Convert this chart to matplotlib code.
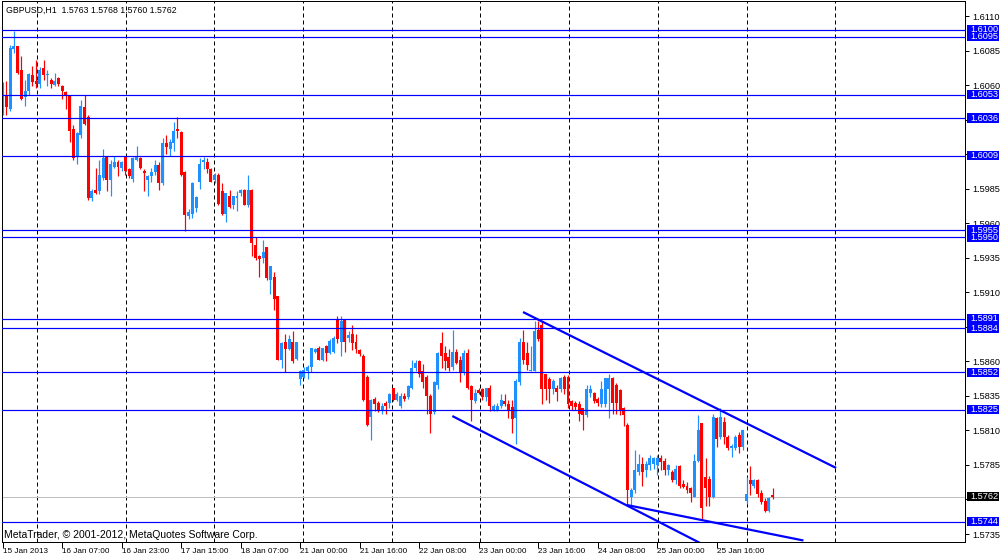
import numpy as np
import matplotlib
matplotlib.use("Agg")
import matplotlib.pyplot as plt
from matplotlib import transforms
from matplotlib.patches import Rectangle
from matplotlib.ticker import FuncFormatter

# GBPUSD H1 candles (bar 0 = 15 Jan 15:00)
opens = [
    1.6041, 1.6053, 1.6043, 1.6086, 1.6088, 1.6071, 1.6051, 1.6056, 1.6067, 1.6063,
    1.6061, 1.6072, 1.6067, 1.6064, 1.6060, 1.6065, 1.6059, 1.6055, 1.6052, 1.6028,
    1.6009, 1.6024, 1.6044, 1.6037, 1.5978, 1.5984, 1.5983, 1.5993, 1.6008, 1.5991,
    1.6001, 1.6004, 1.6000, 1.6008, 1.5999, 1.5992, 1.6006, 1.6007, 1.5998, 1.5991,
    1.5994, 1.5997, 1.6002, 1.5989, 1.6018, 1.6014, 1.6018, 1.6028, 1.6026, 1.5997,
    1.5965, 1.5967, 1.5971, 1.5990, 1.6004, 1.6004, 1.5999, 1.5991, 1.5995, 1.5983,
    1.5967, 1.5980, 1.5973, 1.5978, 1.5982, 1.5984, 1.5973, 1.5984, 1.5944, 1.5936,
    1.5935, 1.5943, 1.5919, 1.5921, 1.5907, 1.5861, 1.5874, 1.5869, 1.5874, 1.5862,
    1.5847, 1.5849, 1.5853, 1.5856, 1.5867, 1.5870, 1.5861, 1.5871, 1.5866, 1.5867,
    1.5890, 1.5874, 1.5890, 1.5877, 1.5880, 1.5874, 1.5868, 1.5864, 1.5849, 1.5820,
    1.5833, 1.5830, 1.5824, 1.5830, 1.5830, 1.5841, 1.5832, 1.5828, 1.5835, 1.5834,
    1.5841, 1.5855, 1.5860, 1.5853, 1.5849, 1.5835, 1.5823, 1.5843, 1.5873, 1.5866,
    1.5863, 1.5856, 1.5867, 1.5861, 1.5852, 1.5866, 1.5842, 1.5831, 1.5839, 1.5840,
    1.5834, 1.5841, 1.5825, 1.5825, 1.5828, 1.5831, 1.5829, 1.5827, 1.5819, 1.5845,
    1.5874, 1.5866, 1.5853, 1.5853, 1.5883, 1.5886, 1.5851, 1.5847, 1.5840, 1.5841,
    1.5840, 1.5849, 1.5849, 1.5831, 1.5830, 1.5829, 1.5826, 1.5821, 1.5837, 1.5837,
    1.5833, 1.5829, 1.5829, 1.5840, 1.5848, 1.5843, 1.5839, 1.5826, 1.5814, 1.5762,
    1.5767, 1.5780, 1.5786, 1.5781, 1.5785, 1.5786, 1.5785, 1.5790, 1.5788, 1.5781,
    1.5780, 1.5774, 1.5784, 1.5771, 1.5770, 1.5768, 1.5762, 1.5788, 1.5815, 1.5776,
    1.5775, 1.5762, 1.5819, 1.5805, 1.5816, 1.5805, 1.5797, 1.5797, 1.5807, 1.5798,
    1.5759, 1.5774, 1.5770, 1.5774, 1.5765, 1.5759, 1.5752, 1.5763,
]
highs = [
    1.6062, 1.6063, 1.6089, 1.6099, 1.6088, 1.6081, 1.6064, 1.6069, 1.6074, 1.6078,
    1.6073, 1.6078, 1.6071, 1.6065, 1.6069, 1.6066, 1.6060, 1.6056, 1.6053, 1.6031,
    1.6026, 1.6049, 1.6053, 1.6038, 1.5985, 1.6000, 1.6006, 1.6014, 1.6009, 1.6006,
    1.6009, 1.6006, 1.6005, 1.6009, 1.6000, 1.6008, 1.6016, 1.6008, 1.5999, 1.5995,
    1.6000, 1.6006, 1.6004, 1.6022, 1.6024, 1.6021, 1.6033, 1.6037, 1.6027, 1.5998,
    1.5970, 1.5990, 1.5980, 1.6007, 1.6008, 1.6007, 1.6000, 1.5996, 1.5996, 1.5989,
    1.5982, 1.5984, 1.5980, 1.5983, 1.5985, 1.5985, 1.5995, 1.5985, 1.5950, 1.5937,
    1.5948, 1.5943, 1.5929, 1.5925, 1.5907, 1.5874, 1.5880, 1.5879, 1.5882, 1.5874,
    1.5854, 1.5856, 1.5857, 1.5870, 1.5870, 1.5871, 1.5870, 1.5872, 1.5876, 1.5878,
    1.5893, 1.5893, 1.5890, 1.5882, 1.5886, 1.5880, 1.5869, 1.5865, 1.5850, 1.5833,
    1.5834, 1.5831, 1.5830, 1.5831, 1.5837, 1.5841, 1.5838, 1.5837, 1.5837, 1.5843,
    1.5861, 1.5861, 1.5861, 1.5858, 1.5850, 1.5836, 1.5846, 1.5867, 1.5881, 1.5871,
    1.5869, 1.5883, 1.5869, 1.5864, 1.5868, 1.5869, 1.5843, 1.5840, 1.5841, 1.5841,
    1.5841, 1.5843, 1.5829, 1.5830, 1.5836, 1.5836, 1.5832, 1.5832, 1.5847, 1.5877,
    1.5883, 1.5874, 1.5871, 1.5889, 1.5889, 1.5889, 1.5851, 1.5849, 1.5847, 1.5843,
    1.5849, 1.5850, 1.5850, 1.5832, 1.5831, 1.5831, 1.5826, 1.5843, 1.5843, 1.5838,
    1.5834, 1.5846, 1.5848, 1.5851, 1.5849, 1.5844, 1.5840, 1.5827, 1.5815, 1.5768,
    1.5796, 1.5793, 1.5791, 1.5788, 1.5792, 1.5791, 1.5792, 1.5792, 1.5790, 1.5786,
    1.5781, 1.5785, 1.5785, 1.5774, 1.5773, 1.5769, 1.5793, 1.5821, 1.5815, 1.5790,
    1.5777, 1.5822, 1.5820, 1.5826, 1.5820, 1.5807, 1.5800, 1.5807, 1.5809, 1.5810,
    1.5776, 1.5784, 1.5775, 1.5775, 1.5767, 1.5761, 1.5762, 1.5768,
]
lows = [
    1.6038, 1.6038, 1.6041, 1.6083, 1.6068, 1.6049, 1.6045, 1.6053, 1.6059, 1.6058,
    1.6058, 1.6064, 1.6059, 1.6058, 1.6059, 1.6059, 1.6050, 1.6043, 1.6019, 1.6006,
    1.6003, 1.6022, 1.6031, 1.5977, 1.5976, 1.5981, 1.5981, 1.5991, 1.5983, 1.5980,
    1.6000, 1.5994, 1.5998, 1.5995, 1.5993, 1.5990, 1.6005, 1.5999, 1.5983, 1.5980,
    1.5990, 1.5995, 1.5984, 1.5988, 1.6010, 1.6009, 1.6012, 1.6022, 1.5994, 1.5954,
    1.5963, 1.5964, 1.5968, 1.5985, 1.5999, 1.5996, 1.5990, 1.5989, 1.5973, 1.5966,
    1.5961, 1.5971, 1.5970, 1.5969, 1.5980, 1.5973, 1.5972, 1.5936, 1.5933, 1.5921,
    1.5931, 1.5919, 1.5909, 1.5897, 1.5861, 1.5855, 1.5852, 1.5868, 1.5859, 1.5861,
    1.5843, 1.5848, 1.5847, 1.5852, 1.5866, 1.5861, 1.5860, 1.5860, 1.5865, 1.5866,
    1.5873, 1.5864, 1.5867, 1.5874, 1.5868, 1.5866, 1.5864, 1.5831, 1.5813, 1.5803,
    1.5824, 1.5823, 1.5822, 1.5822, 1.5826, 1.5831, 1.5831, 1.5826, 1.5831, 1.5833,
    1.5840, 1.5853, 1.5849, 1.5841, 1.5822, 1.5808, 1.5822, 1.5840, 1.5855, 1.5854,
    1.5853, 1.5854, 1.5858, 1.5845, 1.5850, 1.5840, 1.5817, 1.5830, 1.5836, 1.5832,
    1.5831, 1.5824, 1.5824, 1.5824, 1.5826, 1.5828, 1.5819, 1.5808, 1.5800, 1.5843,
    1.5858, 1.5854, 1.5853, 1.5853, 1.5875, 1.5829, 1.5832, 1.5830, 1.5836, 1.5831,
    1.5838, 1.5836, 1.5826, 1.5825, 1.5825, 1.5817, 1.5810, 1.5820, 1.5834, 1.5830,
    1.5828, 1.5827, 1.5827, 1.5819, 1.5822, 1.5822, 1.5821, 1.5813, 1.5757, 1.5756,
    1.5765, 1.5778, 1.5770, 1.5776, 1.5781, 1.5782, 1.5778, 1.5781, 1.5778, 1.5778,
    1.5773, 1.5771, 1.5768, 1.5768, 1.5765, 1.5758, 1.5762, 1.5787, 1.5745, 1.5755,
    1.5755, 1.5761, 1.5798, 1.5804, 1.5800, 1.5796, 1.5791, 1.5796, 1.5794, 1.5796,
    1.5757, 1.5763, 1.5768, 1.5762, 1.5757, 1.5751, 1.5751, 1.5760,
]
closes = [
    1.6061, 1.6044, 1.6087, 1.6088, 1.6069, 1.6050, 1.6056, 1.6068, 1.6062, 1.6061,
    1.6071, 1.6067, 1.6068, 1.6061, 1.6063, 1.6061, 1.6056, 1.6053, 1.6027, 1.6007,
    1.6025, 1.6045, 1.6032, 1.5978, 1.5983, 1.5982, 1.5995, 1.6007, 1.5991, 1.6003,
    1.6004, 1.6001, 1.6004, 1.5998, 1.5994, 1.6007, 1.6008, 1.6000, 1.5996, 1.5994,
    1.5997, 1.6002, 1.5989, 1.6018, 1.6015, 1.6019, 1.6027, 1.6027, 1.5995, 1.5966,
    1.5968, 1.5989, 1.5979, 1.6003, 1.6006, 1.5999, 1.5990, 1.5995, 1.5974, 1.5967,
    1.5982, 1.5972, 1.5980, 1.5980, 1.5984, 1.5973, 1.5984, 1.5946, 1.5935, 1.5934,
    1.5939, 1.5920, 1.5929, 1.5905, 1.5861, 1.5873, 1.5869, 1.5876, 1.5860, 1.5874,
    1.5853, 1.5854, 1.5856, 1.5870, 1.5869, 1.5861, 1.5870, 1.5866, 1.5875, 1.5877,
    1.5876, 1.5889, 1.5874, 1.5879, 1.5873, 1.5869, 1.5865, 1.5832, 1.5814, 1.5832,
    1.5829, 1.5825, 1.5828, 1.5828, 1.5836, 1.5832, 1.5836, 1.5835, 1.5833, 1.5842,
    1.5855, 1.5859, 1.5851, 1.5845, 1.5835, 1.5822, 1.5845, 1.5866, 1.5864, 1.5860,
    1.5855, 1.5867, 1.5859, 1.5852, 1.5866, 1.5841, 1.5832, 1.5837, 1.5837, 1.5834,
    1.5841, 1.5828, 1.5828, 1.5828, 1.5832, 1.5829, 1.5824, 1.5818, 1.5846, 1.5874,
    1.5861, 1.5857, 1.5854, 1.5882, 1.5876, 1.5840, 1.5840, 1.5840, 1.5846, 1.5838,
    1.5848, 1.5840, 1.5829, 1.5828, 1.5827, 1.5822, 1.5821, 1.5840, 1.5840, 1.5831,
    1.5830, 1.5840, 1.5848, 1.5848, 1.5830, 1.5830, 1.5825, 1.5821, 1.5767, 1.5767,
    1.5781, 1.5786, 1.5780, 1.5786, 1.5790, 1.5790, 1.5790, 1.5787, 1.5781, 1.5785,
    1.5774, 1.5782, 1.5770, 1.5769, 1.5767, 1.5765, 1.5788, 1.5810, 1.5754, 1.5768,
    1.5762, 1.5820, 1.5804, 1.5820, 1.5805, 1.5797, 1.5799, 1.5805, 1.5798, 1.5810,
    1.5764, 1.5771, 1.5774, 1.5764, 1.5758, 1.5752, 1.5761, 1.5762,
]

# horizontal price levels drawn on the chart (later ones overlap earlier labels)
level_prices = [1.6095, 1.6100, 1.6053, 1.6036, 1.6009, 1.5955, 1.5950,
                1.5891, 1.5884, 1.5852, 1.5825, 1.5744]
bid_price = 1.5762

# trend lines: (bar index, price) start and end
trend_lines = [
    ((139.9, 1.58957), (224.1, 1.57828)),
    ((120.9, 1.58204), (187.5, 1.57285)),
    ((167.8, 1.57560), (215.3, 1.57303)),
]

time_label_bars = [0, 16, 32, 48, 64, 80, 96, 112, 128, 144, 160, 176, 192]
time_labels = ["15 Jan 2013", "16 Jan 07:00", "16 Jan 23:00", "17 Jan 15:00",
               "18 Jan 07:00", "21 Jan 00:00", "21 Jan 16:00", "22 Jan 08:00",
               "23 Jan 00:00", "23 Jan 16:00", "24 Jan 08:00", "25 Jan 00:00",
               "25 Jan 16:00"]

header = "GBPUSD,H1  1.5763 1.5768 1.5760 1.5762"
footer = "MetaTrader, \u00a9 2001-2012, MetaQuotes Software Corp."

BULL = "#1e90ff"
BEAR = "#ff0000"
LEVEL = "#0000ff"
PX = 0.72  # one pixel in points at dpi 100
FS = 6.6
plt.rcParams["font.family"] = ["Liberation Sans", "DejaVu Sans"]

W, H = 1000, 557
fig = plt.figure(figsize=(W / 100, H / 100), dpi=100)
fig.patch.set_facecolor("white")

# plot frame in pixels
left_px, right_px, top_px, bottom_px = 2, 965, 1, 541.5
ax = fig.add_axes([left_px / W, (H - bottom_px) / H,
                   (right_px - left_px) / W, (bottom_px - top_px) / H])

# price scale: 1.6110 sits at y=16 px, 1.5735 at y=534 px
ppx = (534 - 16) / (1.6110 - 1.5735)
ax.set_ylim(1.6110 - (bottom_px - 16) / ppx, 1.6110 + (16 - top_px) / ppx)
# bar spacing 3.719 px, bar 0 at x=2.7 px
bpx = 3.719
ax.set_xlim((left_px - 2.7) / bpx, (right_px - 2.7) / bpx)

# dashed vertical grid
for gx in 9.2 + 23.85 * np.arange(10):
    ax.axvline(gx, color="black", lw=PX, linestyle=(0, (4, 3)), zorder=1)

o = np.array(opens)
h = np.array(highs)
l = np.array(lows)
c = np.array(closes)
x = np.arange(len(o))
colors = np.where(c > o, BULL, BEAR)

ax.vlines(x, l, h, colors=colors, lw=PX * 1.2, zorder=2)
body = np.maximum(np.abs(c - o), 0.8 / ppx)
ax.bar(x, body, bottom=np.minimum(o, c), width=0.8, color=colors,
       linewidth=0, zorder=2)

# bid line
ax.axhline(bid_price, color="#c0c0c0", lw=PX, zorder=1.5)

for p in level_prices:
    ax.axhline(p, color=LEVEL, lw=PX * 1.2, zorder=3)

for (x0, y0), (x1, y1) in trend_lines:
    ax.plot([x0, x1], [y0, y1], color=LEVEL, lw=1.6, zorder=4,
            solid_capstyle="butt")

# price axis on the right; scale labels hidden under a price tag are skipped
tag_prices = level_prices + [bid_price]


def price_fmt(v, pos):
    if min(abs(v - t) for t in tag_prices) * ppx < 6:
        return ""
    return f"{v:.4f}"


ax.yaxis.tick_right()
ax.set_yticks(np.arange(1.5735, 1.61105, 0.0025))
ax.yaxis.set_major_formatter(FuncFormatter(price_fmt))
ax.tick_params(axis="y", length=3, width=PX, pad=2, labelsize=FS,
               colors="black")

ax.set_xticks(time_label_bars)
ax.set_xticklabels(time_labels, ha="left", fontsize=5.9)
ax.tick_params(axis="x", length=4, width=PX, pad=0.8)

for s in ax.spines.values():
    s.set_linewidth(PX)
    s.set_color("black")

# price tags on the axis
trans = transforms.blended_transform_factory(fig.transFigure, ax.transData)
tag_h = 9.5 / ppx


def tag(price, face):
    ax.add_patch(Rectangle((967 / W, price - tag_h / 2), 32 / W, tag_h,
                           transform=trans, facecolor=face, edgecolor="none",
                           clip_on=False, zorder=10))
    ax.text(970 / W, price, f"{price:.4f}", transform=trans, color="white",
            fontsize=FS, va="center", ha="left", clip_on=False, zorder=11)


for p in level_prices:
    tag(p, LEVEL)
tag(bid_price, "black")

fig.text(6 / W, 1 - 10 / H, header, fontsize=6.3, va="center", ha="left")
fig.text(4 / W, 1 - 535 / H, footer, fontsize=7.5, va="center", ha="left")

fig.savefig("out.png", dpi=100, facecolor="white")
